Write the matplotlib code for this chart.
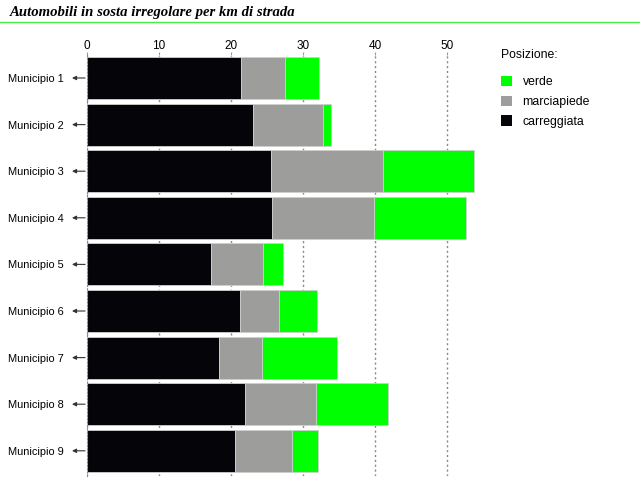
#! /usr/bin/env python3

import numpy as np
import matplotlib.pyplot as plt
from matplotlib.lines import Line2D
from matplotlib.patches import Patch


# Auto in sosta irregolare per km di strada, per municipio.
municipi = ["Municipio 1", "Municipio 2", "Municipio 3", "Municipio 4",
            "Municipio 5", "Municipio 6", "Municipio 7", "Municipio 8",
            "Municipio 9"]
carreggiata = [21.4, 23.1, 25.5, 25.7, 17.2, 21.3, 18.3, 21.9, 20.6]
marciapiede = [6.1, 9.6, 15.6, 14.2, 7.2, 5.4, 5.95, 9.9, 7.8]
verde = [4.7, 1.2, 12.65, 12.7, 2.8, 5.2, 10.45, 9.95, 3.6]
xticks = [0, 10, 20, 30, 40, 50]

c_black = "#050509"
c_gray = "#9d9d9b"
c_green = "#00ff00"

plt.rcParams["font.family"] = ["Liberation Sans", "DejaVu Sans"]

fig = plt.figure(figsize=(6.4, 4.87), dpi=100)
ax = fig.add_axes([0.136, 0.0217, 0.619, 0.866])

y = np.arange(len(municipi))
left2 = np.array(carreggiata)
left3 = left2 + np.array(marciapiede)
ax.barh(y, carreggiata, height=0.9, color=c_black, edgecolor="#cfcfcf",
        linewidth=0.6, zorder=2)
ax.barh(y, marciapiede, left=left2, height=0.9, color=c_gray,
        edgecolor="#cfcfcf", linewidth=0.6, zorder=2)
ax.barh(y, verde, left=left3, height=0.9, color=c_green,
        edgecolor="#cfcfcf", linewidth=0.6, zorder=2)

ax.set_xlim(0, 55)
ax.set_ylim(8.55, -0.5)
ax.xaxis.tick_top()
ax.set_xticks(xticks)
ax.tick_params(axis="x", length=2, color="#999999", labelsize=8.5, pad=0,
               width=0.8)
ax.set_yticks(y)
ax.set_yticklabels(municipi)
ax.tick_params(axis="y", length=0, labelsize=7.9, pad=17)
for s in ["top", "right", "bottom"]:
    ax.spines[s].set_visible(False)
ax.spines["left"].set_linestyle((0, (1, 2)))
ax.spines["left"].set_color("#888888")
ax.grid(axis="x", linestyle=(0, (1.5, 2)), color="#888888", linewidth=1,
        zorder=0)

# small arrows next to the labels
for yi in y:
    ax.annotate("", xy=(-0.038, yi), xytext=(-0.005, yi),
                xycoords=ax.get_yaxis_transform(),
                textcoords=ax.get_yaxis_transform(),
                arrowprops=dict(arrowstyle="-|>", color="#333333",
                                lw=0.8, mutation_scale=6,
                                shrinkA=0, shrinkB=0),
                annotation_clip=False)

# title and green rule
fig.text(0.015, 0.975, "Automobili in sosta irregolare per km di strada",
         fontsize=10.6, fontstyle="italic", fontweight="bold",
         family="Liberation Serif", va="center", ha="left")
fig.add_artist(Line2D([0, 1], [0.954, 0.954], color="#44ee44", lw=1))

handles = [Patch(facecolor=c_green, label="verde"),
           Patch(facecolor=c_gray, label="marciapiede"),
           Patch(facecolor=c_black, label="carreggiata")]
leg = fig.legend(handles=handles, title="Posizione:", loc="upper left",
                 bbox_to_anchor=(0.765, 0.906), frameon=False, fontsize=8.8,
                 title_fontsize=8.8, handlelength=0.9, handleheight=0.9,
                 labelspacing=0.6, handletextpad=0.9)
leg._legend_box.align = "left"
leg.get_title().set_position((0, 8))

fig.savefig("out.png", dpi=100)
